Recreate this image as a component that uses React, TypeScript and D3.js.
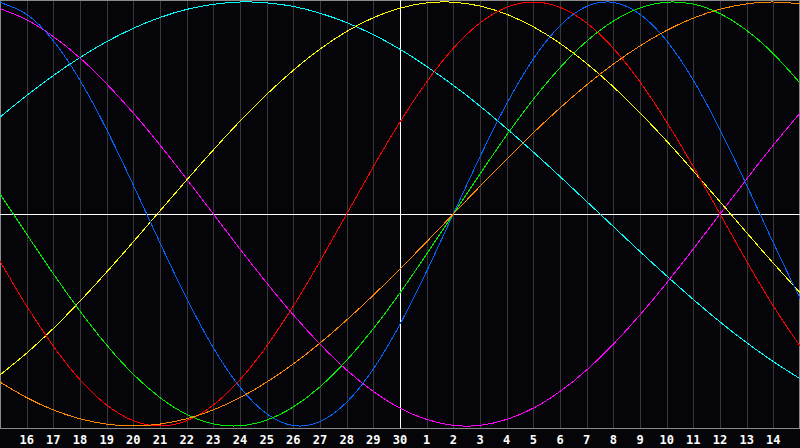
import * as d3 from 'd3';

// days shown along the bottom (first and last are the unlabelled edges)
const days = [15, 16, 17, 18, 19, 20, 21, 22, 23, 24, 25, 26, 27, 28, 29, 30,
  1, 2, 3, 4, 5, 6, 7, 8, 9, 10, 11, 12, 13, 14, 15];

// cycle values in percent, one per day
const physical = [99.8, 94.2, 81.7, 63.1, 39.8, 13.6, -13.6, -39.8, -63.1, -81.7, -94.2, -99.8, -97.9,
  -88.8, -73.1, -52.0, -27.0, 0, 27.0, 52.0, 73.1, 88.8, 97.9, 99.8, 94.2, 81.7, 63.1, 39.8, 13.6, -13.6, -39.8];
const emotional = [-22.3, -43.4, -62.3, -78.2, -90.1, -97.5, -100, -97.5, -90.1, -78.2, -62.3, -43.4, -22.3,
  0, 22.3, 43.4, 62.3, 78.2, 90.1, 97.5, 100, 97.5, 90.1, 78.2, 62.3, 43.4, 22.3, 0, -22.3, -43.4, -62.3];
const intellectual = [9.5, -9.5, -28.2, -45.8, -61.8, -75.6, -86.6, -94.5, -99.0, -99.9, -97.2, -91.0, -81.5,
  -69.0, -54.1, -37.2, -18.9, 0, 18.9, 37.2, 54.1, 69.0, 81.5, 91.0, 97.2, 99.9, 99.0, 94.5, 86.6, 75.6, 61.8];
const intuitive = [96.9, 91.6, 83.7, 73.6, 61.4, 47.6, 32.5, 16.5, 0, -16.5, -32.5, -47.6, -61.4, -73.6,
  -83.7, -91.6, -96.9, -99.7, -99.7, -96.9, -91.6, -83.7, -73.6, -61.4, -47.6, -32.5, -16.5, 0, 16.5, 32.5, 47.6];
const aesthetic = [-75.9, -65.6, -54.0, -41.1, -27.4, -13.1, 1.5, 16.0, 30.2, 43.8, 56.4, 67.8, 77.8, 86.1,
  92.6, 97.1, 99.6, 99.9, 98.1, 94.2, 88.3, 80.5, 71.0, 60.0, 47.7, 34.4, 20.3, 5.8, -8.8, -23.2, -37.1];
const awareness = [-79.3, -86.6, -92.4, -96.6, -99.1, -100, -99.1, -96.6, -92.4, -86.6, -79.3, -70.7, -60.9,
  -50.0, -38.3, -25.9, -13.1, 0, 13.1, 25.9, 38.3, 50.0, 60.9, 70.7, 79.3, 86.6, 92.4, 96.6, 99.1, 100, 99.1];
const spiritual = [45.7, 55.9, 65.3, 73.8, 81.3, 87.6, 92.7, 96.5, 98.9, 100.0, 99.6, 97.9, 94.7, 90.3,
  84.6, 77.7, 69.6, 60.7, 50.9, 40.3, 29.2, 17.7, 5.9, -5.9, -17.7, -29.2, -40.3, -50.9, -60.7, -69.6, -77.7];

const series = [
  { name: 'spiritual', values: spiritual, color: '#00ffff' },
  { name: 'intuitive', values: intuitive, color: '#ff00ff' },
  { name: 'aesthetic', values: aesthetic, color: '#ffff00' },
  { name: 'emotional', values: emotional, color: '#ff0000' },
  { name: 'physical', values: physical, color: '#0066ff' },
  { name: 'intellectual', values: intellectual, color: '#00ee00' },
  { name: 'awareness', values: awareness, color: '#ff8800' },
];

const W = 800;
const H = 448;
const plotBottom = 428.5;

export default function App() {
  const x = d3.scaleLinear().domain([0, days.length - 1]).range([0, W]);
  const y = d3.scaleLinear().domain([-100, 100]).range([426, 2]);

  const line = d3
    .line<number>()
    .x((_d, i) => x(i))
    .y((d) => y(d))
    .curve(d3.curveNatural);

  const todayIdx = days.indexOf(30);

  return (
    <svg
      width={W}
      height={H}
      style={{ position: 'absolute', left: 0, top: 0, display: 'block' }}
    >
      <rect x={0} y={0} width={W} height={H} fill="#050509" />

      {/* day grid */}
      {days.map((_d, i) =>
        i > 0 && i < days.length - 1 ? (
          <line
            key={'g' + i}
            x1={Math.round(x(i)) + 0.5}
            x2={Math.round(x(i)) + 0.5}
            y1={0}
            y2={plotBottom}
            stroke="#383838"
            strokeWidth={1}
          />
        ) : null
      )}

      {/* frame */}
      <rect x={0.5} y={0.5} width={W - 1} height={plotBottom - 0.5} fill="none" stroke="#8a8a8a" strokeWidth={1} />

      {/* zero line and current day */}
      <line x1={0} x2={W} y1={Math.round(y(0)) + 0.5} y2={Math.round(y(0)) + 0.5} stroke="#ffffff" strokeWidth={1} />
      <line
        x1={Math.round(x(todayIdx)) + 0.5}
        x2={Math.round(x(todayIdx)) + 0.5}
        y1={0}
        y2={plotBottom}
        stroke="#ffffff"
        strokeWidth={1}
      />

      {/* cycles */}
      {series.map((s) => (
        <path
          key={s.name}
          d={line(s.values) || ''}
          fill="none"
          stroke={s.color}
          strokeWidth={1}
          shapeRendering="crispEdges"
        />
      ))}

      {/* day labels */}
      {days.map((d, i) =>
        i > 0 && i < days.length - 1 ? (
          <text
            key={'t' + i}
            x={x(i)}
            y={444}
            textAnchor="middle"
            fill="#ffffff"
            fontFamily="'DejaVu Sans Mono', monospace"
            fontWeight="bold"
            fontSize={12}
          >
            {d}
          </text>
        ) : null
      )}
    </svg>
  );
}
